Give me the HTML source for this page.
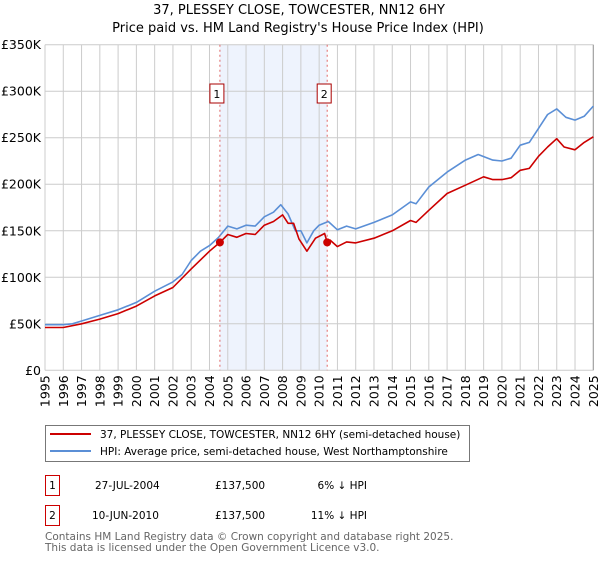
<!DOCTYPE html>
<html><head><meta charset="utf-8"><style>
body{margin:0;background:#fff;font-family:"DejaVu Sans","Liberation Sans",sans-serif;}
svg text{font-family:"DejaVu Sans","Liberation Sans",sans-serif;}
</style></head><body>
<svg id="chart" width="600" height="560" viewBox="0 0 600 560" xmlns="http://www.w3.org/2000/svg">
<text x="299" y="14" text-anchor="middle" font-size="13">37, PLESSEY CLOSE, TOWCESTER, NN12 6HY</text>
<text x="298" y="32" text-anchor="middle" font-size="13">Price paid vs. HM Land Registry's House Price Index (HPI)</text>
<g id="grid"></g>
<g id="series"></g>
<g id="axes"></g>
<g>
<rect x="45.5" y="425.5" width="424" height="36" fill="#fff" stroke="#777"/>
<line x1="50" y1="434" x2="91" y2="434" stroke="#cc0000" stroke-width="2"/>
<text x="100" y="438" font-size="10.5">37, PLESSEY CLOSE, TOWCESTER, NN12 6HY (semi-detached house)</text>
<line x1="50" y1="451" x2="91" y2="451" stroke="#5b8fd6" stroke-width="2"/>
<text x="100" y="455" font-size="10.5">HPI: Average price, semi-detached house, West Northamptonshire</text>
</g>
<g font-size="10.5">
<rect x="45.5" y="475.5" width="14" height="20" fill="#fff" stroke="#cc0000"/>
<text x="52.5" y="489" text-anchor="middle">1</text>
<text x="95" y="489">27-JUL-2004</text>
<text x="215" y="489">£137,500</text>
<text x="367" y="489" text-anchor="end">6% ↓ HPI</text>
<rect x="45.5" y="505.5" width="14" height="20" fill="#fff" stroke="#cc0000"/>
<text x="52.5" y="519" text-anchor="middle">2</text>
<text x="92" y="519">10-JUN-2010</text>
<text x="215" y="519">£137,500</text>
<text x="367" y="519" text-anchor="end">11% ↓ HPI</text>
</g>
<text x="45" y="540" font-size="10.5" fill="#666">Contains HM Land Registry data © Crown copyright and database right 2025.</text>
<text x="45" y="551" font-size="10.5" fill="#666">This data is licensed under the Open Government Licence v3.0.</text>
</svg>
<script>
const hpiYears=[1995,1996,1996.5,1997,1998,1999,2000,2001,2002,2002.5,2003,2003.5,2004,2004.5,2005,2005.5,2006,2006.5,2007,2007.5,2007.9,2008.3,2008.7,2009,2009.33,2009.7,2010,2010.5,2011,2011.5,2012,2013,2014,2015,2015.3,2016,2017,2018,2018.7,2019.5,2020,2020.5,2021,2021.5,2022,2022.5,2023,2023.5,2024,2024.5,2025];
const hpiValues=[49,49,50,53,59,65,73,85,95,103,118,128,134,143,155,152,156,155,165,170,178,168,150,150,137,150,156,160,151,155,152,159,167,181,179,197,213,226,232,226,225,228,242,245,260,275,281,272,269,273,284];
const priceYears=[1995,1996,1997,1998,1999,2000,2001,2002,2003,2004,2004.57,2005,2005.5,2006,2006.5,2007,2007.5,2008,2008.3,2008.6,2008.9,2009,2009.33,2009.8,2010.3,2010.44,2010.6,2011,2011.5,2012,2013,2014,2015,2015.3,2016,2017,2018,2019,2019.5,2020,2020.5,2021,2021.5,2022,2022.5,2023,2023.4,2024,2024.5,2025];
const priceValues=[46,46,50,55,61,69,80,89,109,128,137.5,146,143,147,146,156,160,167,158,158,141,138,128,142,147,137.5,140,133,138,137,142,150,161,159,172,190,199,208,205,205,207,215,217,230,240,249,240,237,245,251];
const saleYears=[2004.57,2010.44];
const saleValues=[137.5,137.5];
const saleLabels=["1","2"];
const yTicks=[0,50,100,150,200,250,300,350];
const yTickLabels=["£0","£50K","£100K","£150K","£200K","£250K","£300K","£350K"];
const xTicks=[1995,1996,1997,1998,1999,2000,2001,2002,2003,2004,2005,2006,2007,2008,2009,2010,2011,2012,2013,2014,2015,2016,2017,2018,2019,2020,2021,2022,2023,2024,2025];

const NS="http://www.w3.org/2000/svg";
const X0=45,X1=593.3,Y0=370.3,Y1=44.7;
const xs=v=>X0+(v-1995)/30*(X1-X0);
const ys=v=>Y0-(v/350)*(Y0-Y1);
function mk(tag,attrs,parent){const e=document.createElementNS(NS,tag);for(const k in attrs)e.setAttribute(k,attrs[k]);parent.appendChild(e);return e;}
const grid=document.getElementById('grid'),series=document.getElementById('series'),axes=document.getElementById('axes');
const sh=mk('rect',{x:xs(saleYears[0]),y:Y1,width:xs(saleYears[1])-xs(saleYears[0]),height:Y0-Y1,fill:'#eef3fd'},grid);


yTicks.forEach((t,i)=>{
  const l=mk('line',{x1:X0,x2:X1,y1:ys(t),y2:ys(t),stroke:'#cccccc','stroke-width':1},grid);
  
  
  const tx=mk('text',{x:X0-4,y:ys(t)+4.5,'text-anchor':'end','font-size':'12.5'},axes);
  tx.textContent=yTickLabels[i];
  
  
});
xTicks.forEach(t=>{
  const l=mk('line',{x1:xs(t),x2:xs(t),y1:Y1,y2:Y0,stroke:'#cccccc','stroke-width':1},grid);
  
  
  const tx=mk('text',{x:0,y:0,'text-anchor':'end','font-size':'12.5',transform:`translate(${xs(t)+4.5},${Y0+5}) rotate(-90)`},axes);
  tx.textContent=String(t);
  
  
});
const rb=mk('line',{x1:X1,x2:X1,y1:Y1,y2:Y0,stroke:'#999','stroke-width':1},grid);


function path(xa,va,color,name){
  const d=xa.map((x,i)=>(i?'L':'M')+xs(x).toFixed(1)+','+ys(va[i]).toFixed(1)).join('');
  const p=mk('path',{d:d,fill:'none',stroke:color,'stroke-width':1.6,'stroke-linejoin':'round'},series);
  
  
}
path(hpiYears,hpiValues,'#5b8fd6','hpi-line');
path(priceYears,priceValues,'#cc0000','price-paid-line');
saleYears.forEach((s,i)=>{
  const l=mk('line',{x1:xs(s),x2:xs(s),y1:Y1,y2:Y0,stroke:'#e06666','stroke-width':1,'stroke-dasharray':'2,3'},series);
  
  
  const c=mk('circle',{cx:xs(s),cy:ys(saleValues[i]),r:4,fill:'#cc0000'},series);
  
  
  const bx=mk('rect',{x:xs(s)-10,y:84,width:14,height:19,fill:'#fff',stroke:'#aa0000'},series);
  
  
  const tx=mk('text',{x:xs(s)-3,y:98,'text-anchor':'middle','font-size':'11'},series);
  tx.textContent=saleLabels[i];
  
  
});
</script>
</body></html>
